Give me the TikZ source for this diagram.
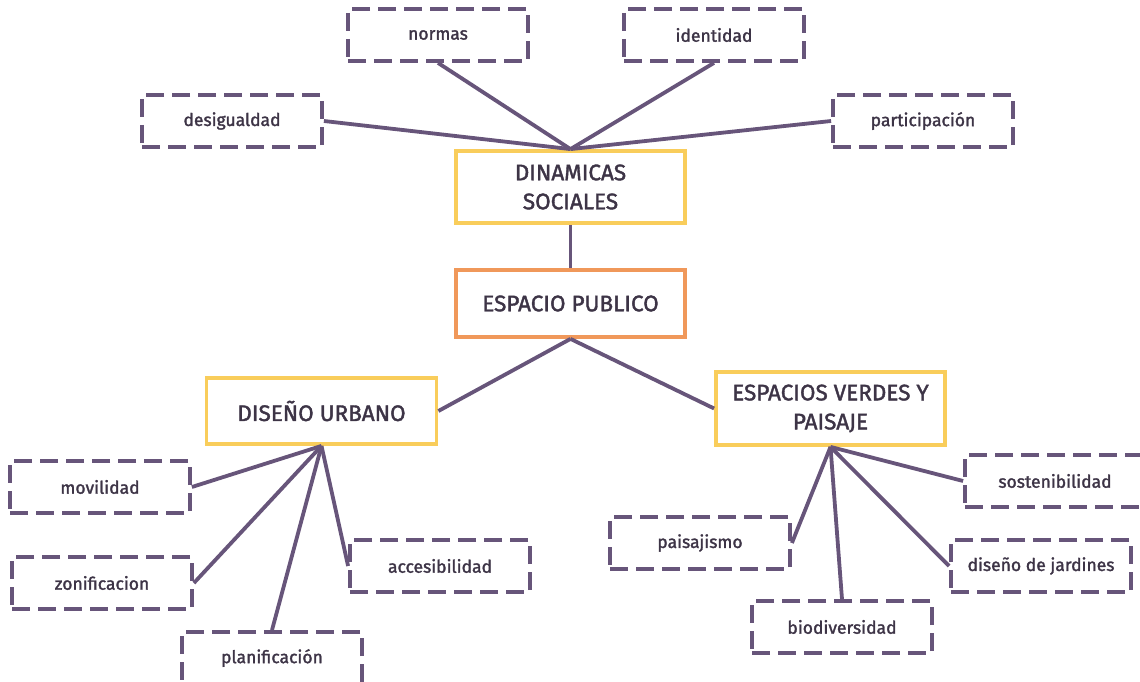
\documentclass[tikz,border=0pt]{standalone}
\usepackage{fontspec}
\setmainfont{Fira Sans}[UprightFeatures={FakeBold=1.7}]
\definecolor{linec}{HTML}{67557A}
\definecolor{textc}{HTML}{3D3446}
\definecolor{yel}{HTML}{F9CD5B}
\definecolor{ora}{HTML}{F0985A}
\tikzset{
  leaf/.style={draw=linec, line width=3.8pt, dash pattern=on 18pt off 8pt, minimum width=180pt, minimum height=52pt, inner sep=0pt, text=textc, font=\fontsize{17.5}{20}\selectfont},
  mainbox/.style={draw=yel, line width=3.8pt, minimum width=229pt, inner sep=0pt, text=textc, align=center, font=\fontsize{22.5}{29}\selectfont},
  conn/.style={draw=linec, line width=3.8pt},
}
\begin{document}
\begin{tikzpicture}[x=1pt,y=-1pt]
\useasboundingbox (0,0) rectangle (1140,682);
% top leaves
\node[leaf] (normas) at (438,35) {normas};
\node[leaf] (ident) at (714,35) {identidad};
\node[leaf] (desig) at (232,121) {desigualdad};
\node[leaf] (parti) at (923,121) {participación};
% main boxes
\node[mainbox, minimum height=72pt] (din) at (570.5,187) {DINAMICAS\\SOCIALES};
\node[mainbox, draw=ora, minimum height=67pt] (esp) at (570.5,303.5) {ESPACIO PUBLICO};
\node[mainbox, minimum width=230pt, minimum height=66pt] (dis) at (321.5,411) {DISEÑO URBANO};
\node[mainbox, minimum height=73pt] (ver) at (830.5,408.5) {ESPACIOS VERDES Y\\PAISAJE};
% bottom-left leaves
\node[leaf] (movil) at (100,487) {movilidad};
\node[leaf] (zoni) at (102,583) {zonificacion};
\node[leaf] (plani) at (272,658) {planificación};
\node[leaf] (acces) at (440,566) {accesibilidad};
% bottom-right leaves
\node[leaf] (paisa) at (700,543) {paisajismo};
\node[leaf] (biodi) at (842,627) {biodiversidad};
\node[leaf] (soste) at (1055,481) {sostenibilidad};
\node[leaf] (jard) at (1041,566) {diseño de jardines};
% connectors
\draw[conn] (din.north) -- (normas.south);
\draw[conn] (din.north) -- (ident.south);
\draw[conn] (din.north) -- (desig.east);
\draw[conn] (din.north) -- (parti.west);
\draw[conn] (din.south) -- (esp.north);
\draw[conn] (esp.south) -- (dis.east);
\draw[conn] (esp.south) -- (ver.west);
\draw[conn] (dis.south) -- (movil.east);
\draw[conn] (dis.south) -- (zoni.east);
\draw[conn] (dis.south) -- (plani.north);
\draw[conn] (dis.south) -- (acces.west);
\draw[conn] (ver.south) -- (soste.west);
\draw[conn] (ver.south) -- (paisa.east);
\draw[conn] (ver.south) -- (biodi.north);
\draw[conn] (ver.south) -- (jard.west);
\end{tikzpicture}
\end{document}
